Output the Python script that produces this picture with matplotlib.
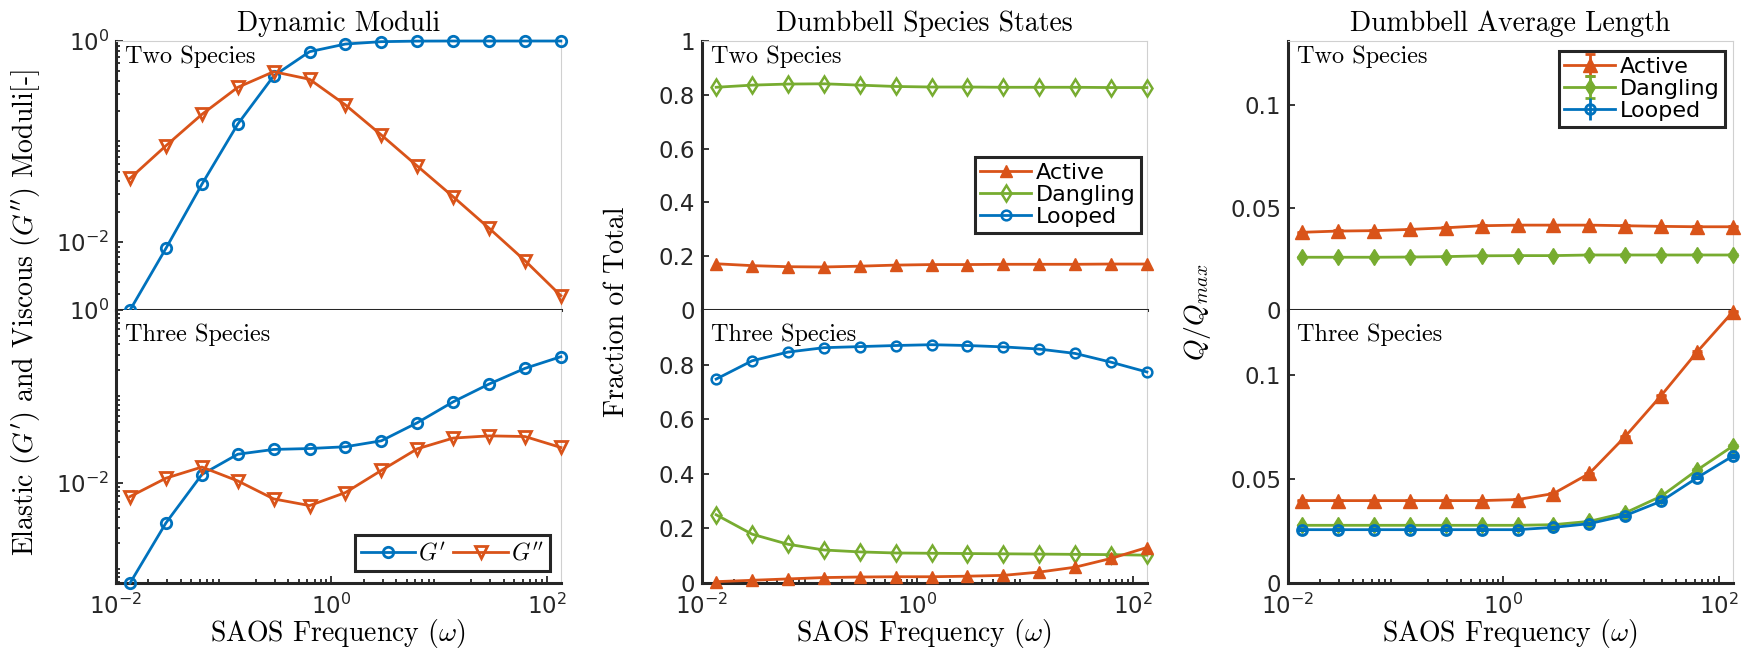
import numpy as np
import matplotlib
matplotlib.use("Agg")
from matplotlib import pyplot as plt
from matplotlib.ticker import LogLocator, NullFormatter, LogFormatterSciNotation

plt.rcParams["mathtext.fontset"] = "cm"
plt.rcParams["font.family"] = "DejaVu Sans"
plt.rcParams["axes.unicode_minus"] = False

# SAOS frequencies (rad/s)
omega = [0.01354, 0.02917, 0.06283, 0.1354, 0.2917, 0.6283, 1.354,
         2.917, 6.283, 13.54, 29.17, 62.83, 135.4]

# Dynamic moduli, two species
g1_two = [0.0021, 0.00865, 0.0375, 0.149, 0.449, 0.783, 0.933,
          0.985, 0.998, 1.0, 1.0, 1.0, 1.0]
g2_two = [0.043, 0.0908, 0.186, 0.346, 0.495, 0.416, 0.231,
          0.116, 0.057, 0.0282, 0.0137, 0.00652, 0.00292]
# Dynamic moduli, three species
g1_three = [0.00069, 0.00343, 0.01245, 0.0214, 0.0243, 0.0249, 0.0261,
            0.0306, 0.0495, 0.0865, 0.139, 0.211, 0.288]
g2_three = [0.00692, 0.0113, 0.0152, 0.0105, 0.0065, 0.00544, 0.0077,
            0.0139, 0.0247, 0.0329, 0.0349, 0.0343, 0.0256]

# Species fractions
active_two = [0.172, 0.165, 0.161, 0.160, 0.163, 0.167, 0.169,
              0.169, 0.170, 0.170, 0.170, 0.171, 0.171]
dangling_two = [0.828, 0.836, 0.840, 0.841, 0.836, 0.831, 0.829,
                0.829, 0.828, 0.828, 0.828, 0.827, 0.827]
active_three = [0.005, 0.010, 0.015, 0.020, 0.022, 0.023, 0.023,
                0.025, 0.028, 0.040, 0.058, 0.090, 0.130]
dangling_three = [0.250, 0.179, 0.142, 0.121, 0.114, 0.110, 0.109,
                  0.108, 0.107, 0.106, 0.105, 0.104, 0.102]
looped_three = [0.747, 0.814, 0.846, 0.862, 0.866, 0.870, 0.873,
                0.870, 0.865, 0.857, 0.841, 0.809, 0.773]

# Average length Q/Qmax
q_active_two = [0.0380, 0.0386, 0.0388, 0.0394, 0.0402, 0.0412, 0.0415,
                0.0415, 0.0415, 0.0412, 0.0409, 0.0407, 0.0407]
q_dangling_two = [0.0258, 0.0258, 0.0258, 0.0259, 0.0261, 0.0265, 0.0266,
                  0.0266, 0.0269, 0.0269, 0.0269, 0.0269, 0.0269]
q_active_three = [0.0397, 0.0397, 0.0397, 0.0397, 0.0397, 0.0397, 0.0402,
                  0.0431, 0.0528, 0.0706, 0.0903, 0.1113, 0.1307]
q_dangling_three = [0.0278, 0.0278, 0.0278, 0.0278, 0.0278, 0.0278, 0.0278,
                    0.0281, 0.0297, 0.0338, 0.0418, 0.0544, 0.0660]
q_looped_three = [0.0257, 0.0257, 0.0257, 0.0257, 0.0257, 0.0257, 0.0257,
                  0.0268, 0.0286, 0.0325, 0.0394, 0.0507, 0.0612]
q_err = 0.0003

BLUE = "#0072BD"
RED = "#D95319"
GREEN = "#77AC30"
DARK = "#262626"
LIGHT = "#d0d0d0"
LW = 2.0
TICK_FS = 16.5
LEG_FS = 16
LABEL_FS = 20
SPECIES_FS = 17.5
SERIF = "cmr10"

fig = plt.figure(figsize=(17.51, 6.52), dpi=100)

lefts = [0.0662, 0.4009, 0.7356]
width = 0.2541
y_bot, y_mid, y_top = 0.1058, 0.5245, 0.9371


def make_pair(left):
    top = fig.add_axes([left, y_mid, width, y_top - y_mid])
    bot = fig.add_axes([left, y_bot, width, y_mid - y_bot])
    for ax in (top, bot):
        ax.set_xscale("log")
        ax.set_xlim(0.01, omega[-1])
        for s in ("top", "right"):
            ax.spines[s].set_color(LIGHT)
            ax.spines[s].set_linewidth(0.8)
        ax.spines["left"].set_color(DARK)
        ax.spines["left"].set_linewidth(2.2)
        ax.tick_params(axis="both", which="both", direction="in",
                       colors=DARK, labelsize=TICK_FS, width=1.3)
        ax.tick_params(which="major", length=5)
        ax.tick_params(which="minor", length=3)
        ax.tick_params(axis="y", right=False, pad=5)
        ax.tick_params(axis="x", top=False, pad=8)
    top.spines["bottom"].set_color(DARK)
    top.spines["bottom"].set_linewidth(2.2)
    top.tick_params(axis="x", which="both", bottom=False, labelbottom=False)
    bot.spines["top"].set_visible(False)
    bot.spines["bottom"].set_color(DARK)
    bot.spines["bottom"].set_linewidth(2.2)
    bot.set_xticks([1e-2, 1e0, 1e2])
    bot.xaxis.set_minor_locator(LogLocator(base=10, subs=np.arange(2, 10), numticks=20))
    bot.xaxis.set_minor_formatter(NullFormatter())
    top.text(0.021, 0.94, "Two Species", transform=top.transAxes,
             fontfamily=SERIF, fontsize=SPECIES_FS, va="center", ha="left")
    bot.text(0.021, 0.91, "Three Species", transform=bot.transAxes,
             fontfamily=SERIF, fontsize=SPECIES_FS, va="center", ha="left")
    bot.text(0.5, -0.185, r"SAOS Frequency ($\omega$)", transform=bot.transAxes,
             fontfamily=SERIF, fontsize=LABEL_FS, ha="center", va="center")
    return top, bot


def frame_legend(leg):
    fr = leg.get_frame()
    fr.set_edgecolor(DARK)
    fr.set_linewidth(2.2)
    fr.set_facecolor("white")
    fr.set_alpha(1)


# Panel 1: dynamic moduli
t1, b1 = make_pair(lefts[0])
for ax, g1, g2 in ((t1, g1_two, g2_two), (b1, g1_three, g2_three)):
    ax.set_yscale("log")
    ax.plot(omega, g1, color=BLUE, lw=LW, marker="o", ms=7.5, mfc="none", mew=2,
            label=r"$G'$", clip_on=False, zorder=3)
    ax.plot(omega, g2, color=RED, lw=LW, marker="v", ms=9, mfc="none", mew=2,
            label=r"$G''$", clip_on=False, zorder=3)
    ax.set_yticks([1e-2, 1e0])
    ax.yaxis.set_major_formatter(LogFormatterSciNotation())
    ax.yaxis.set_minor_locator(LogLocator(base=10, subs=np.arange(1, 10), numticks=20))
    ax.yaxis.set_minor_formatter(NullFormatter())
t1.set_ylim(0.0021, 1.0)
b1.set_ylim(0.00069, 1.0)
t1.set_title("Dynamic Moduli", fontfamily=SERIF, fontsize=LABEL_FS, pad=7)
leg = b1.legend(loc="lower right", bbox_to_anchor=(0.975, 0.045), ncol=2,
                fontsize=LEG_FS + 1, handlelength=2.3, columnspacing=0.3,
                handletextpad=0.15, borderaxespad=0, borderpad=0.25, fancybox=False)
frame_legend(leg)
fig.text(0.0148, (y_bot + y_top) / 2, r"Elastic ($G'$) and Viscous ($G''$) Moduli[-]",
         rotation=90, fontfamily=SERIF, fontsize=LABEL_FS, ha="center", va="center")

# Panel 2: species fractions
t2, b2 = make_pair(lefts[1])
t2.plot(omega, active_two, color=RED, lw=LW, marker="^", ms=9, label="Active",
        clip_on=False, zorder=3)
t2.plot(omega, dangling_two, color=GREEN, lw=LW, marker="d", ms=8, mfc="none",
        mew=1.8, label="Dangling", clip_on=False, zorder=3)
t2.plot([], [], color=BLUE, lw=LW, marker="o", ms=7, mfc="none", mew=1.8, label="Looped")
b2.plot(omega, active_three, color=RED, lw=LW, marker="^", ms=9, clip_on=False, zorder=4)
b2.plot(omega, dangling_three, color=GREEN, lw=LW, marker="d", ms=8, mfc="none",
        mew=1.8, clip_on=False, zorder=3)
b2.plot(omega, looped_three, color=BLUE, lw=LW, marker="o", ms=7, mfc="none",
        mew=1.8, clip_on=False, zorder=3)
t2.set_ylim(0, 1)
t2.set_yticks([0, 0.2, 0.4, 0.6, 0.8, 1.0])
t2.set_yticklabels(["0", "0.2", "0.4", "0.6", "0.8", "1"])
b2.set_ylim(0, 1)
b2.set_yticks([0, 0.2, 0.4, 0.6, 0.8])
b2.set_yticklabels(["0", "0.2", "0.4", "0.6", "0.8"])
t2.set_title("Dumbbell Species States", fontfamily=SERIF, fontsize=LABEL_FS, pad=7)
leg = t2.legend(loc="upper right", bbox_to_anchor=(0.987, 0.569), fontsize=LEG_FS,
                handlelength=2.3, handletextpad=0.2, labelspacing=0.1,
                borderaxespad=0, borderpad=0.25, fancybox=False)
frame_legend(leg)
fig.text(0.352, (y_bot + y_top) / 2, "Fraction of Total", rotation=90,
         fontfamily=SERIF, fontsize=LABEL_FS, ha="center", va="center")

# Panel 3: average dumbbell length
t3, b3 = make_pair(lefts[2])
eb = dict(lw=LW, capsize=3.5, elinewidth=2, capthick=2, clip_on=False)
t3.errorbar(omega, q_active_two, yerr=q_err, color=RED, marker="^", ms=10,
            label="Active", zorder=4, **eb)
t3.errorbar(omega, q_dangling_two, yerr=q_err, color=GREEN, marker="d", ms=8,
            label="Dangling", zorder=3, **eb)
t3.errorbar([], [], yerr=[], color=BLUE, marker="o", ms=7, mfc="none", mew=2,
            label="Looped", **eb)
b3.errorbar(omega, q_active_three, yerr=q_err, color=RED, marker="^", ms=10,
            zorder=5, **eb)
b3.errorbar(omega, q_dangling_three, yerr=q_err, color=GREEN, marker="d", ms=8,
            zorder=3, **eb)
b3.errorbar(omega, q_looped_three, yerr=q_err, color=BLUE, marker="o", ms=7,
            mfc="none", mew=2.2, zorder=4, **eb)
for ax in (t3, b3):
    ax.set_ylim(0, 0.1315)
    ax.set_yticks([0, 0.05, 0.1])
    ax.set_yticklabels(["0", "0.05", "0.1"])
t3.set_title("Dumbbell Average Length", fontfamily=SERIF, fontsize=LABEL_FS, pad=7)
leg = t3.legend(loc="upper right", bbox_to_anchor=(0.982, 0.963), fontsize=LEG_FS,
                handlelength=2.3, handletextpad=0.2, labelspacing=0.1,
                borderaxespad=0, borderpad=0.25, fancybox=False)
frame_legend(leg)
fig.text(0.684, (y_bot + y_top) / 2, r"$Q/Q_{max}$", rotation=90,
         fontsize=LABEL_FS, ha="center", va="center")

fig.savefig("out.png", dpi=100)
